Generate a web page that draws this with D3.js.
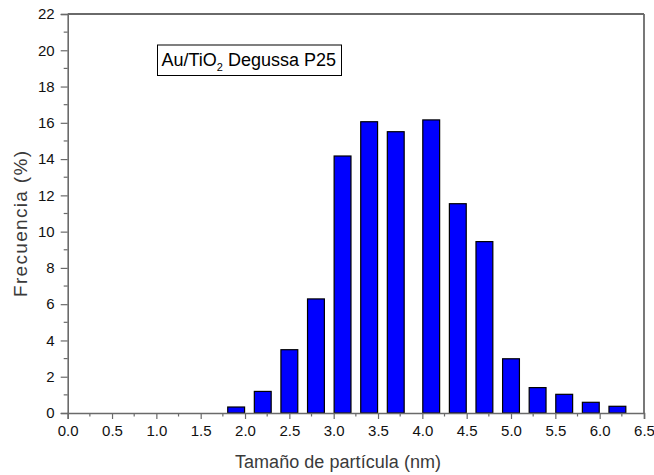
<!DOCTYPE html>
<html>
<head>
<meta charset="utf-8">
<script src="https://cdn.jsdelivr.net/npm/d3@7"></script>
<style>
  html, body { margin: 0; padding: 0; background: #fff; }
  svg { display: block; }
</style>
</head>
<body>
<svg id="chart" width="654" height="475"></svg>
<script>
// Particle size histogram (Au/TiO2 Degussa P25)
const binCenters = [1.9, 2.2, 2.5, 2.8, 3.1, 3.4, 3.7, 4.1, 4.4, 4.7, 5.0, 5.3, 5.6, 5.9, 6.2];
const frequency  = [0.33, 1.19, 3.49, 6.29, 14.17, 16.06, 15.51, 16.16, 11.54, 9.45, 2.99, 1.40, 1.03, 0.59, 0.37];
const binWidth = 0.19;

const xMajorTicks = [0, 0.5, 1, 1.5, 2, 2.5, 3, 3.5, 4, 4.5, 5, 5.5, 6, 6.5];
const yMajorTicks = [0, 2, 4, 6, 8, 10, 12, 14, 16, 18, 20, 22];

const xTitle = "Tamaño de partícula (nm)";
const yTitle = "Frecuencia (%)";

const svg = d3.select("#chart");
const plotLeft = 67.7, plotRight = 644, plotTop = 14, plotBottom = 413;

const x = d3.scaleLinear().domain([0, 6.5]).range([plotLeft, plotRight]);
const y = d3.scaleLinear().domain([0, 22]).range([plotBottom, plotTop]);

const axisColor = "#6a6a6a";
const font = "'Liberation Sans', Arial, sans-serif";

// bars
svg.append("g")
  .selectAll("rect")
  .data(binCenters.map((c, i) => ({ c, v: frequency[i] })))
  .join("rect")
  .attr("x", d => x(d.c - binWidth / 2))
  .attr("width", d => x(d.c + binWidth / 2) - x(d.c - binWidth / 2))
  .attr("y", d => y(d.v))
  .attr("height", d => y(0) - y(d.v))
  .attr("fill", "#0000ff")
  .attr("stroke", "#000")
  .attr("stroke-width", 1.2);

// bottom axis
const xAxis = d3.axisBottom(x)
  .tickValues(xMajorTicks)
  .tickSize(6)
  .tickPadding(6)
  .tickFormat(d3.format(".1f"));
const gx = svg.append("g").attr("transform", `translate(0,${plotBottom})`).call(xAxis);
gx.select(".domain").attr("stroke", axisColor).attr("stroke-width", 1.6);
gx.selectAll(".tick line").attr("stroke", axisColor).attr("stroke-width", 1.2);
gx.selectAll(".tick text").attr("font-family", font).attr("font-size", 15).attr("fill", "#111");

// bottom minor ticks
svg.append("g")
  .selectAll("line")
  .data(d3.range(0.25, 6.5, 0.5))
  .join("line")
  .attr("x1", d => x(d)).attr("x2", d => x(d))
  .attr("y1", plotBottom).attr("y2", plotBottom + 3.5)
  .attr("stroke", axisColor).attr("stroke-width", 1.2);

// left axis
const yAxis = d3.axisLeft(y)
  .tickValues(yMajorTicks)
  .tickSize(7)
  .tickPadding(6)
  .tickFormat(d3.format("d"));
const gy = svg.append("g").attr("transform", `translate(${plotLeft},0)`).call(yAxis);
gy.select(".domain").attr("stroke", axisColor).attr("stroke-width", 1.6);
gy.selectAll(".tick line").attr("stroke", axisColor).attr("stroke-width", 1.2);
gy.selectAll(".tick text").attr("font-family", font).attr("font-size", 15).attr("fill", "#111");

// left minor ticks
svg.append("g")
  .selectAll("line")
  .data(d3.range(1, 22, 2))
  .join("line")
  .attr("x1", plotLeft - 4).attr("x2", plotLeft)
  .attr("y1", d => y(d)).attr("y2", d => y(d))
  .attr("stroke", axisColor).attr("stroke-width", 1.2);

// top and right frame lines
svg.append("line")
  .attr("x1", plotLeft).attr("x2", plotRight)
  .attr("y1", plotTop).attr("y2", plotTop)
  .attr("stroke", axisColor).attr("stroke-width", 1.8);
svg.append("line")
  .attr("x1", plotRight).attr("x2", plotRight)
  .attr("y1", plotTop).attr("y2", plotBottom)
  .attr("stroke", axisColor).attr("stroke-width", 1.8);

// axis titles
svg.append("text")
  .attr("x", 338).attr("y", 468)
  .attr("text-anchor", "middle")
  .attr("font-family", font).attr("font-size", 18)
  .attr("fill", "#3a3a3a")
  .attr("textLength", 206).attr("lengthAdjust", "spacing")
  .text(xTitle);

svg.append("text")
  .attr("transform", "translate(27,224) rotate(-90)")
  .attr("text-anchor", "middle")
  .attr("font-family", font).attr("font-size", 19)
  .attr("fill", "#3a3a3a")
  .attr("textLength", 146).attr("lengthAdjust", "spacing")
  .text(yTitle);

// label box
const box = svg.append("g");
box.append("rect")
  .attr("x", 157.5).attr("y", 45)
  .attr("width", 184).attr("height", 30.5)
  .attr("fill", "#fff").attr("stroke", "#000").attr("stroke-width", 1);
const label = box.append("text")
  .attr("x", 161.5).attr("y", 66)
  .attr("font-family", font).attr("font-size", 18)
  .attr("fill", "#000");
label.append("tspan").text("Au/TiO");
label.append("tspan").attr("font-size", 11).attr("dy", 5).text("2");
label.append("tspan").attr("dy", -5).text(" Degussa P25");
</script>
</body>
</html>
